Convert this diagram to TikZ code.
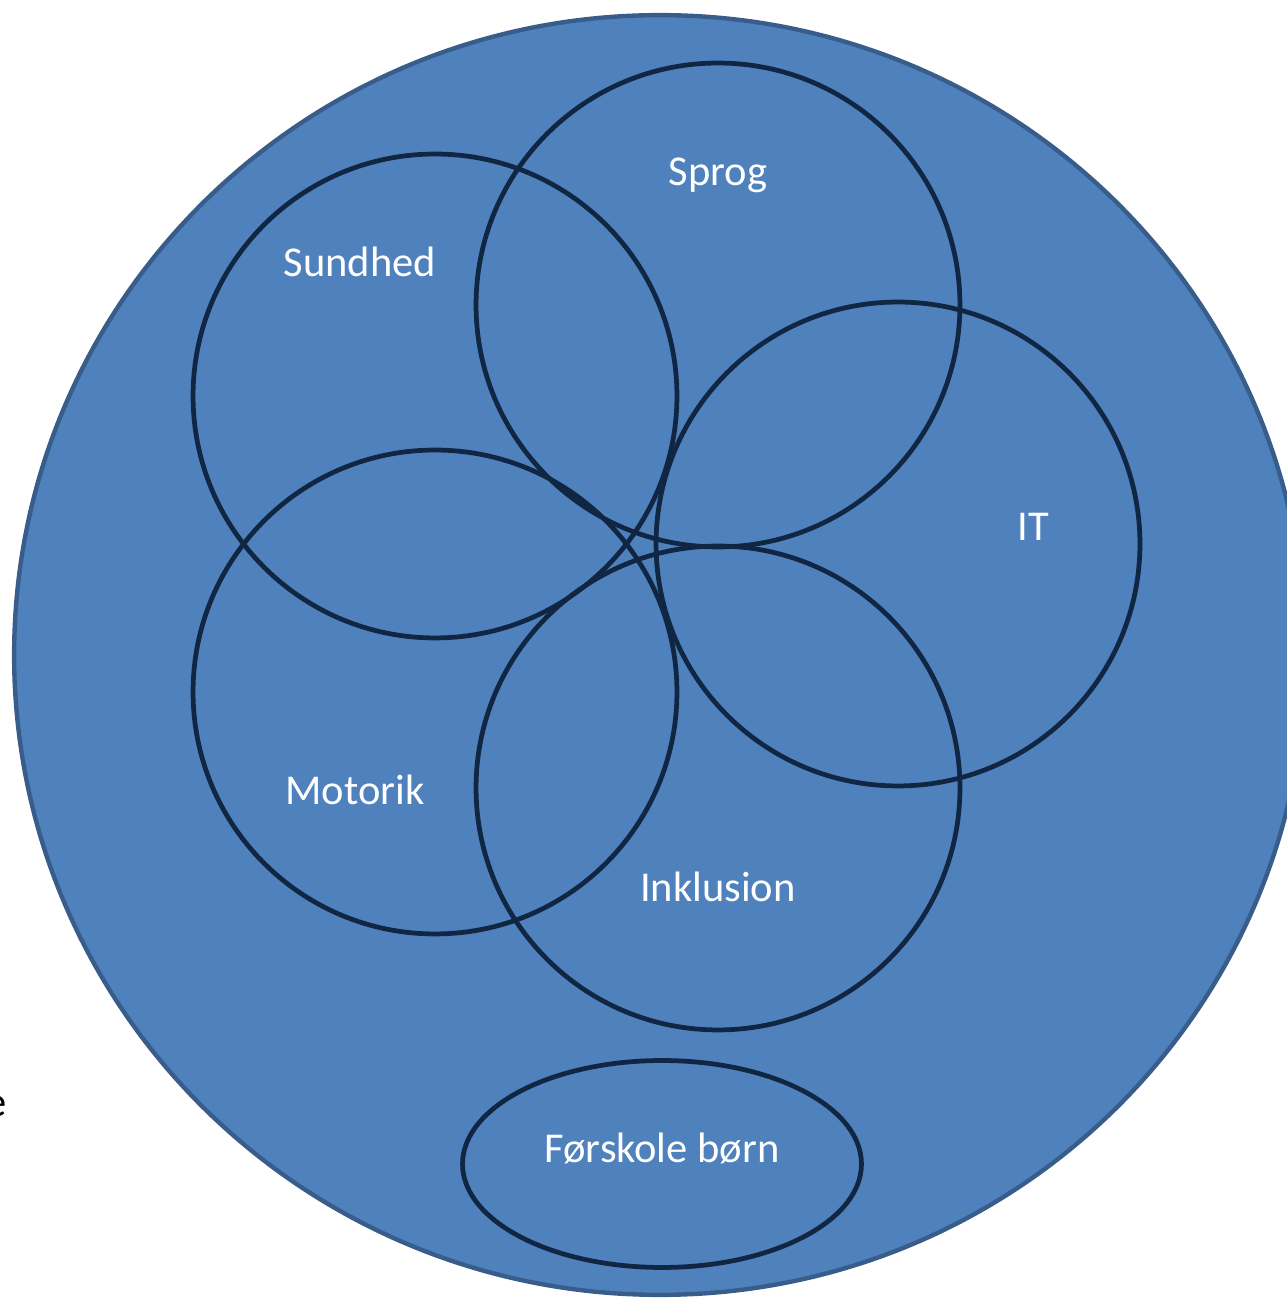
\documentclass[tikz,border=0pt]{standalone}
\usepackage{fontspec}
\setmainfont{Carlito}
\usetikzlibrary{shapes.geometric}
\definecolor{fladeblaa}{RGB}{79,129,189}
\definecolor{kantblaa}{RGB}{56,93,138}
\definecolor{moerkblaa}{RGB}{17,38,66}
\begin{document}
\begin{tikzpicture}[x=0.02cm, y=0.02cm,
		felt/.style={circle, draw=moerkblaa, line width=2.7pt, inner sep=0pt, minimum size=9.68cm},
		tekst/.style={text=white, anchor=base, inner sep=0pt, font=\fontsize{24.2}{28}\selectfont}]
		\useasboundingbox (0,0) rectangle (1287,1298);
		% Baggrund
		\node[ellipse, draw=kantblaa, fill=fladeblaa, line width=2.5pt, inner sep=0pt,
			minimum width=25.84cm, minimum height=25.6cm] (alle) at (660,643) {};
		\node[anchor=base east, inner sep=0pt, font=\fontsize{24.2}{28}\selectfont] (rest) at (7,181) {e};
		% Omraader
		\node[felt] (sprog) at (718,993) {};
		\node[felt] (sundhed) at (435,902) {};
		\node[felt] (it) at (898,754) {};
		\node[felt] (motorik) at (435,606) {};
		\node[felt] (inklusion) at (718,510) {};
		\node[ellipse, draw=moerkblaa, line width=2.7pt, inner sep=0pt,
			minimum width=7.98cm, minimum height=4.14cm] (boern) at (662,134) {};
		% Tekster
		\node[tekst] (tsprog) at (718,1112) {Sprog};
		\node[tekst] (tsundhed) at (360,1021) {Sundhed};
		\node[tekst] (tit) at (1033,757) {IT};
		\node[tekst] (tmotorik) at (355,493) {Motorik};
		\node[tekst] (tinklusion) at (718,396) {Inklusion};
		\node[tekst] (tboern) at (662,135) {Førskole børn};
	\end{tikzpicture}
\end{document}
